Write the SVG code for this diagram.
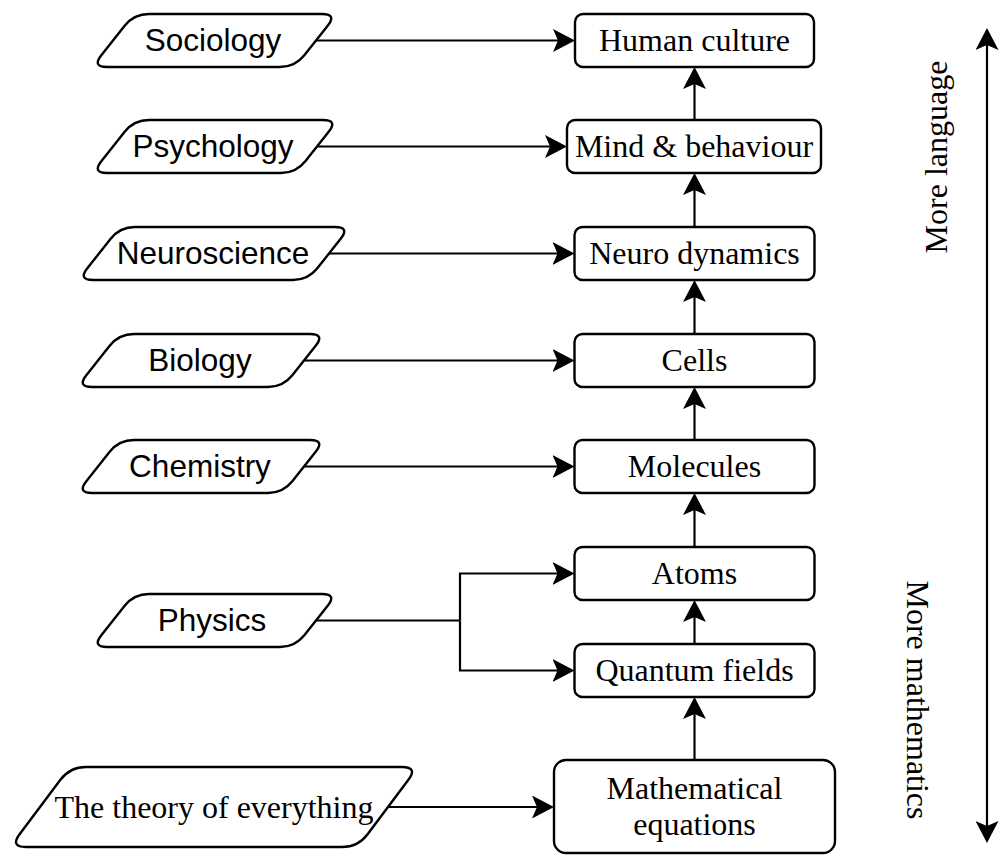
<svg xmlns="http://www.w3.org/2000/svg" width="1001" height="865" viewBox="0 0 1001 865">
<style>
.shape{fill:#fff;stroke:#000;stroke-width:2.4}
.sans{font-family:"Liberation Sans",Arial,sans-serif;font-size:31.5px;fill:#000;text-anchor:middle}
.serif{font-family:"Liberation Serif","Times New Roman",serif;font-size:32px;fill:#000;text-anchor:middle}
.edge{fill:none;stroke:#000;stroke-width:2.2}
.arr{marker-end:url(#ah)}
</style>
<defs>
<marker id="ah" markerUnits="userSpaceOnUse" viewBox="0 0 22 23" markerWidth="22" markerHeight="23" refX="17" refY="11.5" orient="auto">
<path d="M22,11.5 L0,0 L5,11.5 L0,23 Z" fill="#000"/>
</marker>
</defs>
<rect width="1001" height="865" fill="#fff"/>

<g id="n-sociology">
<path class="shape" d="M149,14 L322,14 Q337,14 327.68,25.76 L304.32,55.24 Q295,67 280,67 L107,67 Q92,67 101.32,55.24 L124.68,25.76 Q134,14 149,14Z"/>
<text class="sans" x="213" y="50.5">Sociology</text>
</g>
<g id="n-psychology">
<path class="shape" d="M149,120 L323,120 Q338,120 328.68,131.76 L305.32,161.24 Q296,173 281,173 L107,173 Q92,173 101.32,161.24 L124.68,131.76 Q134,120 149,120Z"/>
<text class="sans" x="213" y="156.5">Psychology</text>
</g>
<g id="n-neuroscience">
<path class="shape" d="M135,227 L335,227 Q350,227 340.68,238.76 L317.32,268.24 Q308,280 293,280 L93,280 Q78,280 87.32,268.24 L110.68,238.76 Q120,227 135,227Z"/>
<text class="sans" x="213" y="263.5">Neuroscience</text>
</g>
<g id="n-biology">
<path class="shape" d="M134,334 L310,334 Q325,334 315.68,345.76 L292.32,375.24 Q283,387 268,387 L92,387 Q77,387 86.32,375.24 L109.68,345.76 Q119,334 134,334Z"/>
<text class="sans" x="200" y="370.5">Biology</text>
</g>
<g id="n-chemistry">
<path class="shape" d="M134,440 L310,440 Q325,440 315.68,451.76 L292.32,481.24 Q283,493 268,493 L92,493 Q77,493 86.32,481.24 L109.68,451.76 Q119,440 134,440Z"/>
<text class="sans" x="200" y="476.5">Chemistry</text>
</g>
<g id="n-physics">
<path class="shape" d="M149,594 L322,594 Q337,594 327.68,605.76 L304.32,635.24 Q295,647 280,647 L107,647 Q92,647 101.32,635.24 L124.68,605.76 Q134,594 149,594Z"/>
<text class="sans" x="212" y="631">Physics</text>
</g>
<g id="n-theory">
<path class="shape" d="M86,767 L402,767 Q418,767 408.4,779.8 L367.6,834.2 Q358,847 342,847 L26,847 Q10,847 19.6,834.2 L60.4,779.8 Q70,767 86,767Z"/>
<text class="serif" x="214" y="818">The theory of everything</text>
</g>

<g id="n-human">
<rect class="shape" x="575" y="14" width="239" height="53" rx="8"/>
<text class="serif" x="694.5" y="51">Human culture</text>
</g>
<g id="n-mind">
<rect class="shape" x="567" y="120" width="254" height="53" rx="8"/>
<text class="serif" x="694" y="157">Mind &amp; behaviour</text>
</g>
<g id="n-neuro">
<rect class="shape" x="574.5" y="227" width="240" height="53" rx="8"/>
<text class="serif" x="694.5" y="264">Neuro dynamics</text>
</g>
<g id="n-cells">
<rect class="shape" x="574.5" y="334" width="240" height="53" rx="8"/>
<text class="serif" x="694.5" y="371">Cells</text>
</g>
<g id="n-molecules">
<rect class="shape" x="574.5" y="440" width="240" height="53" rx="8"/>
<text class="serif" x="694.5" y="477">Molecules</text>
</g>
<g id="n-atoms">
<rect class="shape" x="574.5" y="547" width="240" height="53" rx="8"/>
<text class="serif" x="694.5" y="584">Atoms</text>
</g>
<g id="n-quantum">
<rect class="shape" x="574.5" y="644" width="240" height="53" rx="8"/>
<text class="serif" x="694.5" y="681">Quantum fields</text>
</g>
<g id="n-math">
<rect class="shape" x="554" y="760" width="281" height="93" rx="12"/>
<text class="serif" x="694.5" y="799">Mathematical</text>
<text class="serif" x="694.5" y="835">equations</text>
</g>

<g id="n-axis">
<text class="serif" transform="translate(947,157) rotate(-90)" x="0" y="0">More language</text>
<text class="serif" transform="translate(907,700) rotate(90)" x="0" y="0">More mathematics</text>
</g>

<g id="connectors">
<line class="edge arr" x1="316" y1="40.5" x2="570" y2="40.5"/>
<line class="edge arr" x1="317" y1="146.5" x2="562" y2="146.5"/>
<line class="edge arr" x1="329" y1="253.5" x2="569.5" y2="253.5"/>
<line class="edge arr" x1="304" y1="360.5" x2="569.5" y2="360.5"/>
<line class="edge arr" x1="304" y1="466.5" x2="569.5" y2="466.5"/>
<polyline class="edge" points="316,620.5 460,620.5"/>
<polyline class="edge arr" points="460,620.5 460,573.5 569.5,573.5"/>
<polyline class="edge arr" points="460,620.5 460,670.5 569.5,670.5"/>
<line class="edge arr" x1="388" y1="807" x2="549" y2="807"/>

<line class="edge arr" x1="694.5" y1="120" x2="694.5" y2="72"/>
<line class="edge arr" x1="694.5" y1="227" x2="694.5" y2="178"/>
<line class="edge arr" x1="694.5" y1="334" x2="694.5" y2="285"/>
<line class="edge arr" x1="694.5" y1="440" x2="694.5" y2="392"/>
<line class="edge arr" x1="694.5" y1="547" x2="694.5" y2="498"/>
<line class="edge arr" x1="694.5" y1="644" x2="694.5" y2="605"/>
<line class="edge arr" x1="694.5" y1="760" x2="694.5" y2="702"/>

<line class="edge arr" x1="987" y1="435" x2="987" y2="33"/>
<line class="edge arr" x1="987" y1="435" x2="987" y2="838"/>
</g>
</svg>
